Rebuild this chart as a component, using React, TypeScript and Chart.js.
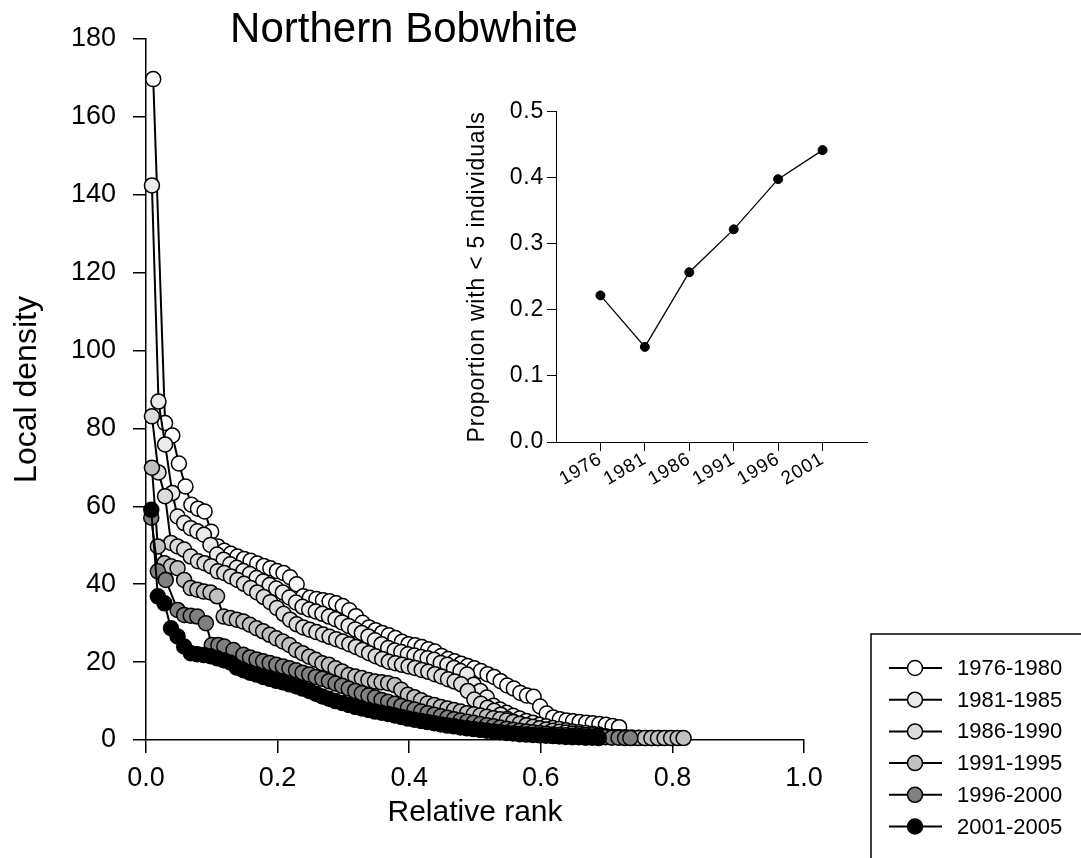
import { useEffect, useRef } from 'react';
import { Chart, registerables } from 'chart.js';

Chart.register(...registerables);

const FONT = '"Liberation Sans", Arial, Helvetica, sans-serif';

// ---------- main chart data ----------
const seriesLabels = ['1976-1980', '1981-1985', '1986-1990', '1991-1995', '1996-2000', '2001-2005'];
const seriesFills = ['#ffffff', '#ebebeb', '#dcdcdc', '#c0c0c0', '#808080', '#000000'];

const rank1976 = [0.011, 0.029, 0.040, 0.050, 0.060, 0.069, 0.079, 0.089, 0.099, 0.109, 0.119, 0.129, 0.139, 0.149, 0.159, 0.169, 0.179, 0.189, 0.199, 0.209, 0.219, 0.229, 0.239, 0.249, 0.259, 0.269, 0.279, 0.289, 0.299, 0.309, 0.319, 0.329, 0.339, 0.349, 0.359, 0.369, 0.379, 0.389, 0.399, 0.409, 0.419, 0.429, 0.439, 0.449, 0.459, 0.469, 0.479, 0.489, 0.499, 0.509, 0.519, 0.529, 0.539, 0.549, 0.559, 0.569, 0.579, 0.589, 0.599, 0.609, 0.619, 0.629, 0.639, 0.649, 0.659, 0.669, 0.679, 0.689, 0.699, 0.709, 0.719];
const dens1976 = [169.7, 81.4, 78.2, 71.0, 65.1, 60.4, 59.4, 58.7, 53.5, 49.7, 48.6, 47.8, 47.1, 46.5, 46.0, 45.3, 44.7, 44.1, 43.4, 42.9, 41.8, 40.0, 36.9, 36.5, 36.2, 35.9, 35.6, 35.1, 34.4, 33.3, 31.8, 30.1, 28.9, 28.2, 27.5, 26.9, 26.2, 25.2, 24.6, 24.3, 23.9, 23.3, 22.7, 21.6, 20.8, 20.2, 19.6, 19.0, 18.4, 17.7, 16.9, 16.2, 15.1, 14.0, 13.2, 12.1, 11.4, 11.1, 8.6, 6.8, 5.8, 5.3, 5.0, 4.8, 4.6, 4.4, 4.3, 4.1, 3.9, 3.6, 3.3];

const rank1981 = [0.009, 0.019, 0.029, 0.040, 0.048, 0.058, 0.068, 0.078, 0.088, 0.098, 0.108, 0.118, 0.128, 0.138, 0.148, 0.158, 0.168, 0.178, 0.188, 0.198, 0.208, 0.218, 0.228, 0.238, 0.248, 0.258, 0.268, 0.278, 0.288, 0.298, 0.308, 0.318, 0.328, 0.338, 0.348, 0.358, 0.368, 0.378, 0.388, 0.398, 0.408, 0.418, 0.428, 0.438, 0.448, 0.458, 0.468, 0.478, 0.488, 0.498, 0.508, 0.518, 0.528, 0.538, 0.548, 0.558, 0.568, 0.578, 0.588, 0.598, 0.608, 0.618, 0.628, 0.638, 0.648, 0.658, 0.668, 0.678, 0.688];
const dens1981 = [142.4, 86.9, 75.9, 63.4, 57.4, 55.7, 54.4, 53.6, 52.7, 50.1, 47.6, 46.3, 45.1, 44.2, 43.4, 42.6, 41.6, 40.7, 39.8, 38.9, 37.9, 36.6, 35.3, 34.2, 33.5, 33.0, 32.4, 31.7, 31.0, 30.2, 29.3, 28.4, 27.5, 26.6, 25.6, 24.6, 23.6, 23.0, 22.6, 22.0, 21.7, 21.3, 21.0, 20.6, 19.8, 19.3, 18.5, 17.7, 16.8, 14.2, 12.6, 10.9, 8.8, 7.8, 7.0, 6.2, 5.5, 4.9, 4.4, 3.9, 3.5, 3.1, 2.8, 2.5, 2.2, 2.0, 1.8, 1.6, 1.4];

const rank1986 = [0.009, 0.019, 0.029, 0.038, 0.048, 0.058, 0.068, 0.079, 0.089, 0.099, 0.109, 0.119, 0.129, 0.139, 0.149, 0.159, 0.169, 0.179, 0.189, 0.199, 0.209, 0.219, 0.229, 0.239, 0.249, 0.259, 0.269, 0.279, 0.289, 0.299, 0.309, 0.319, 0.329, 0.339, 0.349, 0.359, 0.369, 0.379, 0.389, 0.399, 0.409, 0.419, 0.429, 0.439, 0.449, 0.459, 0.469, 0.479, 0.489, 0.499, 0.509, 0.519, 0.529, 0.539, 0.549, 0.559, 0.569, 0.579, 0.589, 0.599, 0.609, 0.619, 0.629, 0.639, 0.649, 0.659, 0.669, 0.679, 0.689, 0.699, 0.709, 0.719, 0.729, 0.739, 0.749, 0.759, 0.769, 0.779];
const dens1986 = [83.1, 68.7, 62.6, 50.6, 49.7, 48.9, 47.1, 45.9, 45.4, 44.6, 43.3, 42.9, 42.0, 41.1, 40.1, 39.0, 37.9, 36.7, 35.4, 33.9, 32.4, 30.9, 29.7, 28.9, 28.3, 27.7, 27.1, 26.5, 25.9, 25.3, 24.6, 23.9, 23.1, 22.3, 21.5, 20.8, 20.1, 19.7, 19.3, 18.9, 18.5, 18.0, 17.5, 16.9, 16.3, 15.6, 15.0, 14.3, 12.6, 10.4, 9.3, 8.3, 7.5, 6.5, 5.4, 4.6, 4.0, 3.5, 3.1, 2.7, 2.4, 2.1, 1.9, 1.7, 1.5, 1.3, 1.2, 1.1, 1.0, 0.9, 0.8, 0.7, 0.7, 0.6, 0.6, 0.5, 0.5, 0.5];

const rank1991 = [0.009, 0.018, 0.028, 0.038, 0.048, 0.058, 0.068, 0.078, 0.088, 0.098, 0.108, 0.118, 0.128, 0.138, 0.148, 0.158, 0.168, 0.178, 0.188, 0.198, 0.208, 0.218, 0.228, 0.238, 0.248, 0.258, 0.268, 0.278, 0.288, 0.298, 0.308, 0.318, 0.328, 0.338, 0.348, 0.358, 0.368, 0.378, 0.388, 0.398, 0.408, 0.418, 0.428, 0.438, 0.448, 0.458, 0.468, 0.478, 0.488, 0.498, 0.508, 0.518, 0.528, 0.538, 0.548, 0.558, 0.568, 0.578, 0.588, 0.598, 0.608, 0.618, 0.628, 0.638, 0.648, 0.658, 0.668, 0.678, 0.688, 0.698, 0.708, 0.718, 0.728, 0.738, 0.748, 0.758, 0.768, 0.778, 0.788, 0.798, 0.808, 0.817];
const dens1991 = [69.9, 49.7, 45.4, 44.6, 44.1, 41.1, 39.0, 38.6, 38.1, 37.9, 36.9, 31.7, 31.3, 30.9, 30.4, 29.6, 28.7, 27.9, 27.0, 26.1, 25.3, 24.4, 23.1, 22.3, 21.4, 20.6, 19.7, 19.3, 18.4, 17.6, 16.7, 16.3, 15.9, 15.4, 15.0, 14.8, 14.6, 14.1, 12.9, 11.6, 11.0, 10.2, 9.4, 9.0, 8.5, 8.1, 7.7, 7.3, 6.9, 6.6, 6.3, 6.0, 5.6, 5.3, 5.0, 4.6, 4.2, 3.8, 3.4, 3.0, 2.7, 2.4, 2.1, 1.9, 1.7, 1.5, 1.3, 1.2, 1.0, 0.9, 0.8, 0.7, 0.6, 0.6, 0.5, 0.5, 0.5, 0.5, 0.5, 0.5, 0.5, 0.5];

const rank1996 = [0.008, 0.018, 0.030, 0.048, 0.058, 0.068, 0.078, 0.091, 0.100, 0.110, 0.119, 0.133, 0.148, 0.158, 0.168, 0.178, 0.188, 0.198, 0.208, 0.218, 0.228, 0.238, 0.248, 0.258, 0.268, 0.278, 0.288, 0.298, 0.308, 0.318, 0.328, 0.338, 0.348, 0.358, 0.368, 0.378, 0.388, 0.398, 0.408, 0.418, 0.428, 0.438, 0.448, 0.458, 0.468, 0.478, 0.488, 0.498, 0.508, 0.518, 0.528, 0.538, 0.548, 0.558, 0.568, 0.578, 0.588, 0.598, 0.608, 0.618, 0.628, 0.638, 0.648, 0.658, 0.668, 0.678, 0.688, 0.698, 0.708, 0.718, 0.728, 0.736];
const dens1996 = [57.1, 43.3, 41.1, 33.4, 32.1, 31.9, 31.7, 30.0, 24.4, 24.4, 24.0, 23.1, 21.9, 21.2, 20.7, 20.2, 19.8, 19.3, 18.9, 18.4, 17.9, 17.3, 16.8, 16.2, 15.7, 15.1, 14.5, 13.9, 13.2, 12.6, 12.0, 11.4, 10.9, 10.3, 9.8, 9.3, 8.7, 8.2, 7.8, 7.3, 6.9, 6.5, 6.1, 5.7, 5.3, 5.0, 4.7, 4.4, 4.1, 3.8, 3.5, 3.2, 2.9, 2.6, 2.4, 2.2, 2.0, 1.8, 1.6, 1.4, 1.3, 1.2, 1.1, 1.0, 0.9, 0.8, 0.7, 0.7, 0.6, 0.6, 0.5, 0.5];

const rank2001 = [0.008, 0.018, 0.028, 0.038, 0.048, 0.058, 0.068, 0.078, 0.088, 0.098, 0.108, 0.118, 0.128, 0.138, 0.148, 0.158, 0.168, 0.178, 0.188, 0.198, 0.208, 0.218, 0.228, 0.238, 0.248, 0.258, 0.268, 0.278, 0.288, 0.298, 0.308, 0.318, 0.328, 0.338, 0.348, 0.358, 0.368, 0.378, 0.388, 0.398, 0.408, 0.418, 0.428, 0.438, 0.448, 0.458, 0.468, 0.478, 0.488, 0.498, 0.508, 0.518, 0.528, 0.538, 0.548, 0.558, 0.568, 0.578, 0.588, 0.598, 0.608, 0.618, 0.628, 0.638, 0.648, 0.658, 0.668, 0.678, 0.688];
const dens2001 = [59.1, 36.9, 35.1, 28.7, 26.6, 24.0, 22.3, 22.0, 21.8, 21.5, 21.0, 20.5, 19.9, 18.6, 17.9, 17.3, 16.8, 16.2, 15.7, 15.2, 14.8, 14.3, 13.8, 13.2, 12.6, 11.9, 11.2, 10.6, 10.0, 9.5, 9.0, 8.5, 8.1, 7.7, 7.3, 7.0, 6.7, 6.3, 5.9, 5.5, 5.2, 4.9, 4.6, 4.3, 4.0, 3.7, 3.5, 3.2, 3.0, 2.8, 2.6, 2.4, 2.2, 2.0, 1.8, 1.7, 1.5, 1.4, 1.3, 1.2, 1.1, 1.0, 0.9, 0.8, 0.7, 0.7, 0.6, 0.6, 0.5];

const seriesRanks = [rank1976, rank1981, rank1986, rank1991, rank1996, rank2001];
const seriesDens = [dens1976, dens1981, dens1986, dens1991, dens1996, dens2001];

const mainXTicks = [0, 0.2, 0.4, 0.6, 0.8, 1.0];
const mainYTicks = [0, 20, 40, 60, 80, 100, 120, 140, 160, 180];

// ---------- inset data ----------
const insetYears = [1976, 1981, 1986, 1991, 1996, 2001];
const insetProportion = [0.222, 0.144, 0.257, 0.322, 0.398, 0.442];
const insetYTicks = [0, 0.1, 0.2, 0.3, 0.4, 0.5];

const W = 1081;
const H = 858;

const overlayPlugin = {
  id: 'overlay',
  afterDraw(chart: any) {
    const ctx = chart.ctx as CanvasRenderingContext2D;
    ctx.save();
    (ctx as any).letterSpacing = '0px';
    // title
    ctx.fillStyle = '#000';
    ctx.font = `42px ${FONT}`;
    ctx.textAlign = 'center';
    ctx.textBaseline = 'alphabetic';
    ctx.fillText('Northern Bobwhite', 404, 42);
    // legend box
    ctx.strokeStyle = '#000';
    ctx.lineWidth = 1.5;
    ctx.strokeRect(871, 634, 260, 260);
    seriesLabels.forEach((lab, i) => {
      const y = 668 + i * 31.7;
      ctx.beginPath();
      ctx.moveTo(889, y);
      ctx.lineTo(942, y);
      ctx.lineWidth = 2;
      ctx.strokeStyle = '#000';
      ctx.stroke();
      ctx.beginPath();
      ctx.arc(915, y, 7.5, 0, Math.PI * 2);
      ctx.fillStyle = seriesFills[i];
      ctx.fill();
      ctx.lineWidth = 1.5;
      ctx.stroke();
      ctx.fillStyle = '#000';
      ctx.font = `22px ${FONT}`;
      ctx.textAlign = 'left';
      ctx.textBaseline = 'middle';
      ctx.fillText(lab, 957, y + 1);
    });
    ctx.restore();
  },
};

const spacingPlugin = {
  id: 'spacing',
  beforeDraw(chart: any) {
    (chart.ctx as any).letterSpacing = '0.8px';
  },
};

export default function App() {
  const mainRef = useRef<HTMLCanvasElement>(null);
  const insetRef = useRef<HTMLCanvasElement>(null);

  useEffect(() => {
    Chart.defaults.font.family = FONT;
    Chart.defaults.color = '#000';

    const datasets = seriesLabels.map((label, i) => ({
      label,
      data: seriesRanks[i].map((x, j) => ({ x, y: seriesDens[i][j] })),
      borderColor: '#000',
      borderWidth: 2,
      pointRadius: 7.5,
      pointBorderWidth: 1.5,
      pointBorderColor: '#000',
      pointBackgroundColor: seriesFills[i],
      backgroundColor: seriesFills[i],
      tension: 0,
      fill: false,
      clip: false as const,
      order: 6 - i,
    }));

    const main = new Chart(mainRef.current!, {
      type: 'line',
      data: { datasets },
      options: {
        animation: false,
        responsive: false,
        events: [],
        layout: { padding: { left: 0, top: 39, right: W - 804, bottom: 0 } },
        plugins: { legend: { display: false }, tooltip: { enabled: false } },
        scales: {
          x: {
            type: 'linear',
            min: 0,
            max: 1,
            afterBuildTicks: (s: any) => {
              s.ticks = mainXTicks.map((v) => ({ value: v }));
            },
            afterFit: (s: any) => {
              s.height = H - 740;
            },
            ticks: {
              font: { size: 27, family: FONT },
              color: '#000',
              padding: 9,
              maxRotation: 0,
              callback: (v: any) => Number(v).toFixed(1),
            },
            grid: { drawOnChartArea: false, drawTicks: true, tickLength: 13, color: '#000', lineWidth: 1.5 },
            border: { display: true, color: '#000', width: 1.5 },
            title: {
              display: true,
              text: 'Relative rank',
              font: { size: 30, family: FONT },
              color: '#000',
              padding: { top: 0, bottom: 27 },
            },
          },
          y: {
            type: 'linear',
            min: 0,
            max: 180,
            afterBuildTicks: (s: any) => {
              s.ticks = mainYTicks.map((v) => ({ value: v }));
            },
            afterFit: (s: any) => {
              s.width = 146;
            },
            ticks: { font: { size: 27, family: FONT }, color: '#000', padding: 17 },
            grid: { drawOnChartArea: false, drawTicks: true, tickLength: 13, color: '#000', lineWidth: 1.5 },
            border: { display: true, color: '#000', width: 1.5 },
            title: {
              display: true,
              text: 'Local density',
              font: { size: 32, family: FONT },
              color: '#000',
              padding: { top: 8, bottom: 0 },
            },
          },
        },
      },
      plugins: [overlayPlugin],
    });

    const inset = new Chart(insetRef.current!, {
      type: 'line',
      data: {
        datasets: [
          {
            label: 'Proportion',
            data: insetYears.map((x, j) => ({ x, y: insetProportion[j] })),
            borderColor: '#000',
            borderWidth: 1.3,
            pointRadius: 4.5,
            pointBorderWidth: 1,
            pointBorderColor: '#000',
            pointBackgroundColor: '#000',
            tension: 0,
            fill: false,
            clip: false as const,
          },
        ],
      },
      options: {
        animation: false,
        responsive: false,
        events: [],
        layout: { padding: { left: 0, top: 15, right: 13, bottom: 0 } },
        plugins: { legend: { display: false }, tooltip: { enabled: false } },
        scales: {
          x: {
            type: 'linear',
            min: 1971,
            max: 2006,
            afterBuildTicks: (s: any) => {
              s.ticks = insetYears.map((v) => ({ value: v }));
            },
            afterFit: (s: any) => {
              s.height = 73;
            },
            ticks: {
              font: { size: 19, family: FONT },
              color: '#000',
              padding: -3,
              minRotation: 30,
              maxRotation: 30,
              callback: (v: any) => String(v),
            },
            grid: { drawOnChartArea: false, drawTicks: true, tickLength: 9, color: '#000', lineWidth: 1 },
            border: { display: true, color: '#000', width: 1 },
          },
          y: {
            type: 'linear',
            min: 0,
            max: 0.5,
            afterBuildTicks: (s: any) => {
              s.ticks = insetYTicks.map((v) => ({ value: v }));
            },
            afterFit: (s: any) => {
              s.width = 116;
            },
            ticks: {
              font: { size: 23, family: FONT },
              color: '#000',
              padding: 3,
              callback: (v: any) => Number(v).toFixed(1),
            },
            grid: { drawOnChartArea: false, drawTicks: true, tickLength: 9, color: '#000', lineWidth: 1 },
            border: { display: true, color: '#000', width: 1 },
            title: {
              display: true,
              text: 'Proportion with < 5 individuals',
              font: { size: 23, family: FONT },
              color: '#000',
              padding: { top: 24, bottom: 0 },
            },
          },
        },
      },
      plugins: [spacingPlugin],
    });

    return () => {
      main.destroy();
      inset.destroy();
    };
  }, []);

  return (
    <div style={{ position: 'absolute', left: 0, top: 0, width: W, height: H, background: '#fff', overflow: 'hidden' }}>
      <canvas ref={mainRef} width={W} height={H} style={{ position: 'absolute', left: 0, top: 0, display: 'block' }} />
      <canvas ref={insetRef} width={440} height={420} style={{ position: 'absolute', left: 440, top: 95, display: 'block' }} />
    </div>
  );
}
